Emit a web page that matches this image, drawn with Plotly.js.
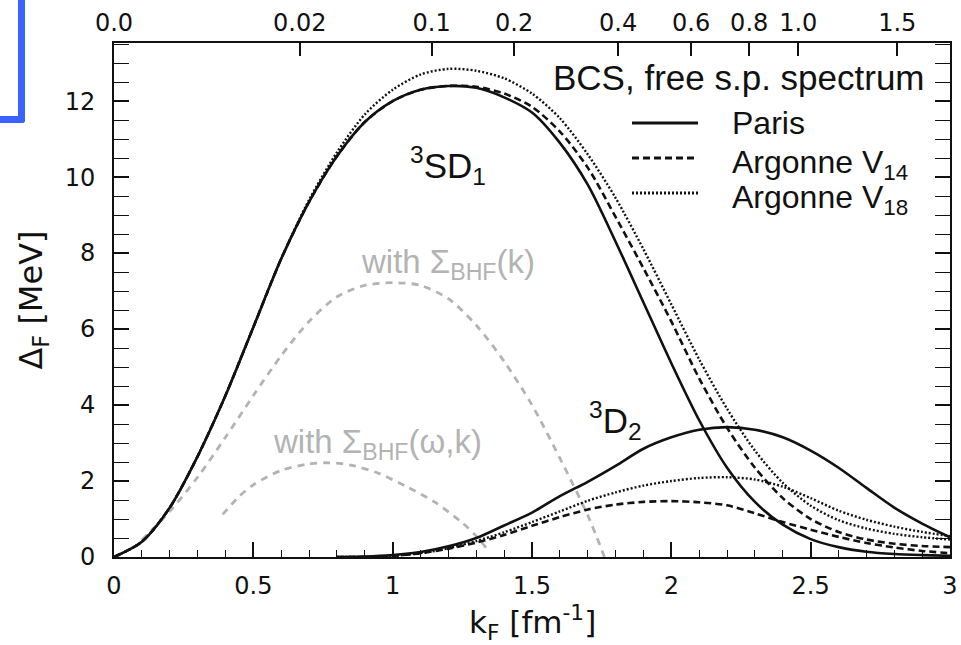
<!DOCTYPE html>
<html><head><meta charset="utf-8">
<script src="https://cdn.plot.ly/plotly-3.0.1.min.js"></script>
<style>
html,body{margin:0;padding:0;background:#fff;}
#chart{width:961px;height:645px;}
#blue{position:absolute;left:0;top:0;width:18px;height:116px;border-right:7px solid rgb(58,98,255);border-bottom:7px solid rgb(58,98,255);border-bottom-right-radius:3px;}
</style></head>
<body>
<div id="chart"></div>
<div id="blue"></div>
<script>
// ---- data ----
const kF = [0,0.1,0.2,0.3,0.4,0.5,0.6,0.7,0.8,0.9,1.0,1.1,1.2,1.3,1.4,1.5,1.6,1.7,1.8,1.9,2.0,2.1,2.2,2.3,2.4,2.5,2.6,2.7,2.8,2.9,3.0];
const parisSD1 = [0,0.4,1.3,2.65,4.25,6.05,7.85,9.35,10.55,11.45,12.0,12.3,12.4,12.35,12.1,11.7,10.9,9.8,8.3,6.7,5.1,3.6,2.35,1.45,0.85,0.47,0.26,0.14,0.08,0.05,0.03];
const v14SD1   = [0,0.4,1.3,2.65,4.25,6.05,7.85,9.35,10.55,11.45,12.0,12.3,12.4,12.38,12.2,11.85,11.2,10.25,8.95,7.6,6.2,4.7,3.4,2.35,1.55,1.0,0.66,0.46,0.35,0.29,0.26];
const v18SD1   = [0,0.4,1.3,2.65,4.25,6.05,7.85,9.4,10.65,11.65,12.3,12.7,12.85,12.8,12.6,12.2,11.55,10.6,9.45,8.1,6.65,5.2,3.9,2.8,1.95,1.35,0.97,0.75,0.61,0.52,0.46];

const kD2 = [0.8,0.9,1.0,1.1,1.2,1.3,1.4,1.5,1.6,1.7,1.8,1.9,2.0,2.1,2.2,2.3,2.4,2.5,2.6,2.7,2.8,2.9,3.0];
const parisD2 = [0,0.01,0.05,0.13,0.28,0.5,0.83,1.17,1.6,1.98,2.4,2.85,3.15,3.35,3.42,3.35,3.15,2.8,2.35,1.82,1.3,0.88,0.52];
const v14D2   = [0,0,0.03,0.1,0.22,0.38,0.58,0.82,1.05,1.25,1.38,1.45,1.47,1.44,1.36,1.15,0.92,0.72,0.53,0.37,0.25,0.16,0.1];
const v18D2   = [0,0,0.03,0.1,0.23,0.42,0.65,0.92,1.2,1.48,1.7,1.88,2.0,2.08,2.1,2.04,1.85,1.55,1.22,0.98,0.8,0.66,0.55];

const kBHFk = [0.1,0.2,0.3,0.4,0.5,0.6,0.7,0.8,0.9,1.0,1.1,1.2,1.3,1.4,1.5,1.6,1.7,1.76];
const gapBHFk = [0.45,1.2,2.1,3.15,4.25,5.3,6.2,6.85,7.15,7.22,7.15,6.8,6.1,5.15,4.0,2.6,1.1,0];

const kBHFwk = [0.39,0.45,0.5,0.6,0.7,0.77,0.85,0.95,1.05,1.15,1.25,1.3,1.34];
const gapBHFwk = [1.12,1.6,1.9,2.28,2.45,2.48,2.42,2.2,1.85,1.45,0.9,0.55,0.2];

// top axis: density rho [fm^-3], kF = (3 pi^2 rho / 2)^(1/3)
const rhoTicks = [0.0,0.02,0.1,0.2,0.4,0.6,0.8,1.0,1.5];
const rhoLabels = ['0.0','0.02','0.1','0.2','0.4','0.6','0.8','1.0','1.5'];

const xTickVals = [0,0.5,1,1.5,2,2.5,3];
const xTickText = ['0','0.5','1','1.5','2','2.5','3'];
const yTickVals = [0,2,4,6,8,10,12];

const legendNames = ['Paris','Argonne V<sub>14</sub>','Argonne V<sub>18</sub>'];
const legendDash = ['solid','7px,4px','2px,2px'];

// ---- chart ----
const FONT = 'Liberation Sans';
const AXFONT = 'DejaVu Sans';
const BLACK = '#111';
const GRAY = '#b3b3b3';
const SOLID = 'solid', DASH = '7px,4px', DOT = '2px,2px';

function tr(x, y, dash, color, width) {
  return {x: x, y: y, type: 'scatter', mode: 'lines', showlegend: false, hoverinfo: 'skip',
    line: {color: color, width: width, dash: dash, shape: 'spline', smoothing: 0.8}};
}
const data = [
  tr(kBHFk, gapBHFk, '7px,6px', GRAY, 2.8),
  tr(kBHFwk, gapBHFwk, '7px,6px', GRAY, 2.8),
  tr(kF, v18SD1, DOT, BLACK, 2.4),
  tr(kF, v14SD1, DASH, BLACK, 2.6),
  tr(kF, parisSD1, SOLID, BLACK, 2.6),
  tr(kD2, v18D2, DOT, BLACK, 2.4),
  tr(kD2, v14D2, DASH, BLACK, 2.6),
  tr(kD2, parisD2, SOLID, BLACK, 2.6)
];
// attach one trace to the top density axis so it is drawn
data.push({x: [0, 3], y: [null, null], xaxis: 'x2', type: 'scatter', mode: 'lines', showlegend: false, hoverinfo: 'skip'});

const rhoToKF = rhoTicks.map(r => Math.cbrt(3 * Math.PI * Math.PI * r / 2));

const legY = [0.8444, 0.7763, 0.7082];
const legTextY = [0.8444, 0.7643, 0.6962];
const shapes = [];
const annotations = [];
for (let i = 0; i < 3; i++) {
  shapes.push({type: 'line', xref: 'paper', yref: 'paper', x0: 0.6196, x1: 0.6986, y0: legY[i], y1: legY[i],
    line: {color: BLACK, width: i === 2 ? 3 : 2.8, dash: legendDash[i]}});
  annotations.push({xref: 'paper', yref: 'paper', x: 0.7368, y: legTextY[i], xanchor: 'left', yanchor: 'middle',
    text: legendNames[i], showarrow: false, font: {family: FONT, size: 32, color: BLACK}});
}
annotations.push({xref: 'paper', yref: 'paper', x: 0.9725, y: 0.932, xanchor: 'right', yanchor: 'middle',
  text: 'BCS, free s.p. spectrum', showarrow: false, font: {family: FONT, size: 35, color: BLACK}});
annotations.push({x: 1.2, y: 10.3, xanchor: 'center', yanchor: 'middle', showarrow: false,
  text: '<sup>3</sup>SD<sub>1</sub>', font: {family: FONT, size: 35, color: BLACK}});
annotations.push({x: 1.8, y: 3.6, xanchor: 'center', yanchor: 'middle', showarrow: false,
  text: '<sup>3</sup>D<sub>2</sub>', font: {family: FONT, size: 35, color: BLACK}});
annotations.push({x: 1.2, y: 7.7, xanchor: 'center', yanchor: 'middle', showarrow: false,
  text: 'with \u03A3<sub>BHF</sub>(k)', font: {family: FONT, size: 33, color: GRAY}});
annotations.push({x: 0.947, y: 2.97, xanchor: 'center', yanchor: 'middle', showarrow: false,
  text: 'with \u03A3<sub>BHF</sub>(\u03C9,k)', font: {family: FONT, size: 33, color: GRAY}});
// x-axis title at the bottom edge, as in the reference
annotations.push({xref: 'paper', yref: 'paper', x: 0.5, y: -0.128, xanchor: 'center', yanchor: 'middle', showarrow: false,
  text: 'k<sub>F</sub> [fm<sup>-1</sup>]', font: {family: AXFONT, size: 31, color: BLACK}});

const tickFont = {family: AXFONT, size: 24, color: BLACK};
const layout = {
  width: 961, height: 645,
  margin: {l: 114, r: 11, t: 43, b: 88},
  paper_bgcolor: '#fff', plot_bgcolor: '#fff',
  showlegend: false,
  xaxis: {
    range: [0, 3], tickvals: xTickVals, ticktext: xTickText,
    ticks: 'inside', ticklen: 15, tickwidth: 1.6, tickcolor: BLACK,
    minor: {dtick: 0.1, ticks: 'inside', ticklen: 7, tickwidth: 1.4, tickcolor: BLACK},
    showline: true, linewidth: 2, linecolor: BLACK, mirror: true,
    showgrid: false, zeroline: false, tickfont: tickFont, ticklabelstandoff: 6
  },
  xaxis2: {
    overlaying: 'x', side: 'top', range: [0, 3], tickvals: rhoToKF, ticktext: rhoLabels,
    ticks: 'inside', ticklen: 13, tickwidth: 1.6, tickcolor: BLACK,
    showline: false, showgrid: false, zeroline: false, tickfont: tickFont, ticklabelstandoff: 6
  },
  yaxis: {
    range: [0, 13.53], tickvals: yTickVals,
    ticks: 'inside', ticklen: 15, tickwidth: 1.6, tickcolor: BLACK,
    minor: {dtick: 0.5, ticks: 'inside', ticklen: 7, tickwidth: 1.4, tickcolor: BLACK},
    showline: true, linewidth: 2, linecolor: BLACK, mirror: 'allticks',
    showgrid: false, zeroline: false, tickfont: tickFont, ticklabelstandoff: 12,
    title: {text: '\u0394<sub>F</sub> [MeV]', font: {family: AXFONT, size: 32, color: BLACK}, standoff: 12}
  },
  shapes: shapes,
  annotations: annotations
};
Plotly.newPlot('chart', data, layout, {displayModeBar: false});
</script>
</body></html>
